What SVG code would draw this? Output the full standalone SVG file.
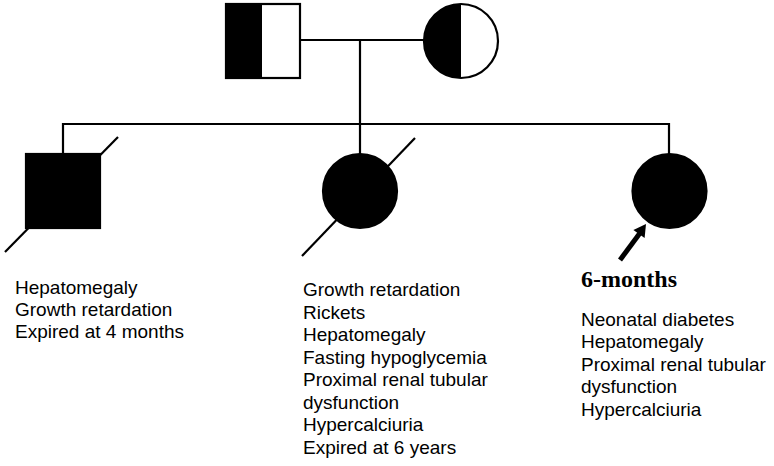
<svg xmlns="http://www.w3.org/2000/svg" width="774" height="466" viewBox="0 0 774 466">
<style>
.ln{stroke:#000;stroke-width:2.2;fill:none}
.sym{stroke:#000;stroke-width:2.2}
.t{font-family:"Liberation Sans",Arial,sans-serif;font-size:19px;fill:#000}
.b{font-family:"Liberation Serif","Times New Roman",serif;font-size:24px;font-weight:bold;fill:#000}
</style>
<rect width="774" height="466" fill="#fff"/>
<g id="connectors">
<line class="ln" x1="301" y1="40" x2="424" y2="40"/>
<line class="ln" x1="360" y1="40" x2="360" y2="154"/>
<polyline class="ln" points="63,154 63,124 669,124 669,154"/>
</g>
<g id="father">
<rect x="226" y="4" width="74" height="74" fill="#fff" class="sym"/>
<rect x="226" y="4" width="36" height="74" fill="#000"/>
</g>
<g id="mother">
<circle cx="461" cy="41" r="37" fill="#fff" class="sym"/>
<path d="M461,4 A37,37 0 0 0 461,78 Z" fill="#000"/>
</g>
<g id="son">
<rect x="26" y="154" width="74" height="74" fill="#000" class="sym"/>
<line class="ln" x1="5" y1="252" x2="118" y2="137"/>
<text class="t"><tspan x="15" y="294">Hepatomegaly</tspan><tspan x="15" y="316">Growth retardation</tspan><tspan x="15" y="337.5">Expired at 4 months</tspan></text>
</g>
<g id="daughter1">
<circle cx="360" cy="191" r="37" fill="#000" class="sym"/>
<line class="ln" x1="302" y1="256" x2="415" y2="138"/>
<text class="t"><tspan x="303" y="296">Growth retardation</tspan><tspan x="303" y="318.5">Rickets</tspan><tspan x="303" y="341">Hepatomegaly</tspan><tspan x="303" y="363.5">Fasting hypoglycemia</tspan><tspan x="303" y="386">Proximal renal tubular</tspan><tspan x="303" y="408.5">dysfunction</tspan><tspan x="303" y="431">Hypercalciuria</tspan><tspan x="303" y="453.5">Expired at 6 years</tspan></text>
</g>
<g id="proband">
<circle cx="669.5" cy="191" r="37" fill="#000" class="sym"/>
<line x1="620" y1="260" x2="640" y2="233" stroke="#000" stroke-width="5"/>
<polygon points="646,224 644.6,238.1 633.4,229.9" fill="#000"/>
<text class="b" x="581" y="287">6-months</text>
<text class="t"><tspan x="581" y="325.5">Neonatal diabetes</tspan><tspan x="581" y="348">Hepatomegaly</tspan><tspan x="581" y="370.5">Proximal renal tubular</tspan><tspan x="581" y="393">dysfunction</tspan><tspan x="581" y="415.5">Hypercalciuria</tspan></text>
</g>
</svg>
